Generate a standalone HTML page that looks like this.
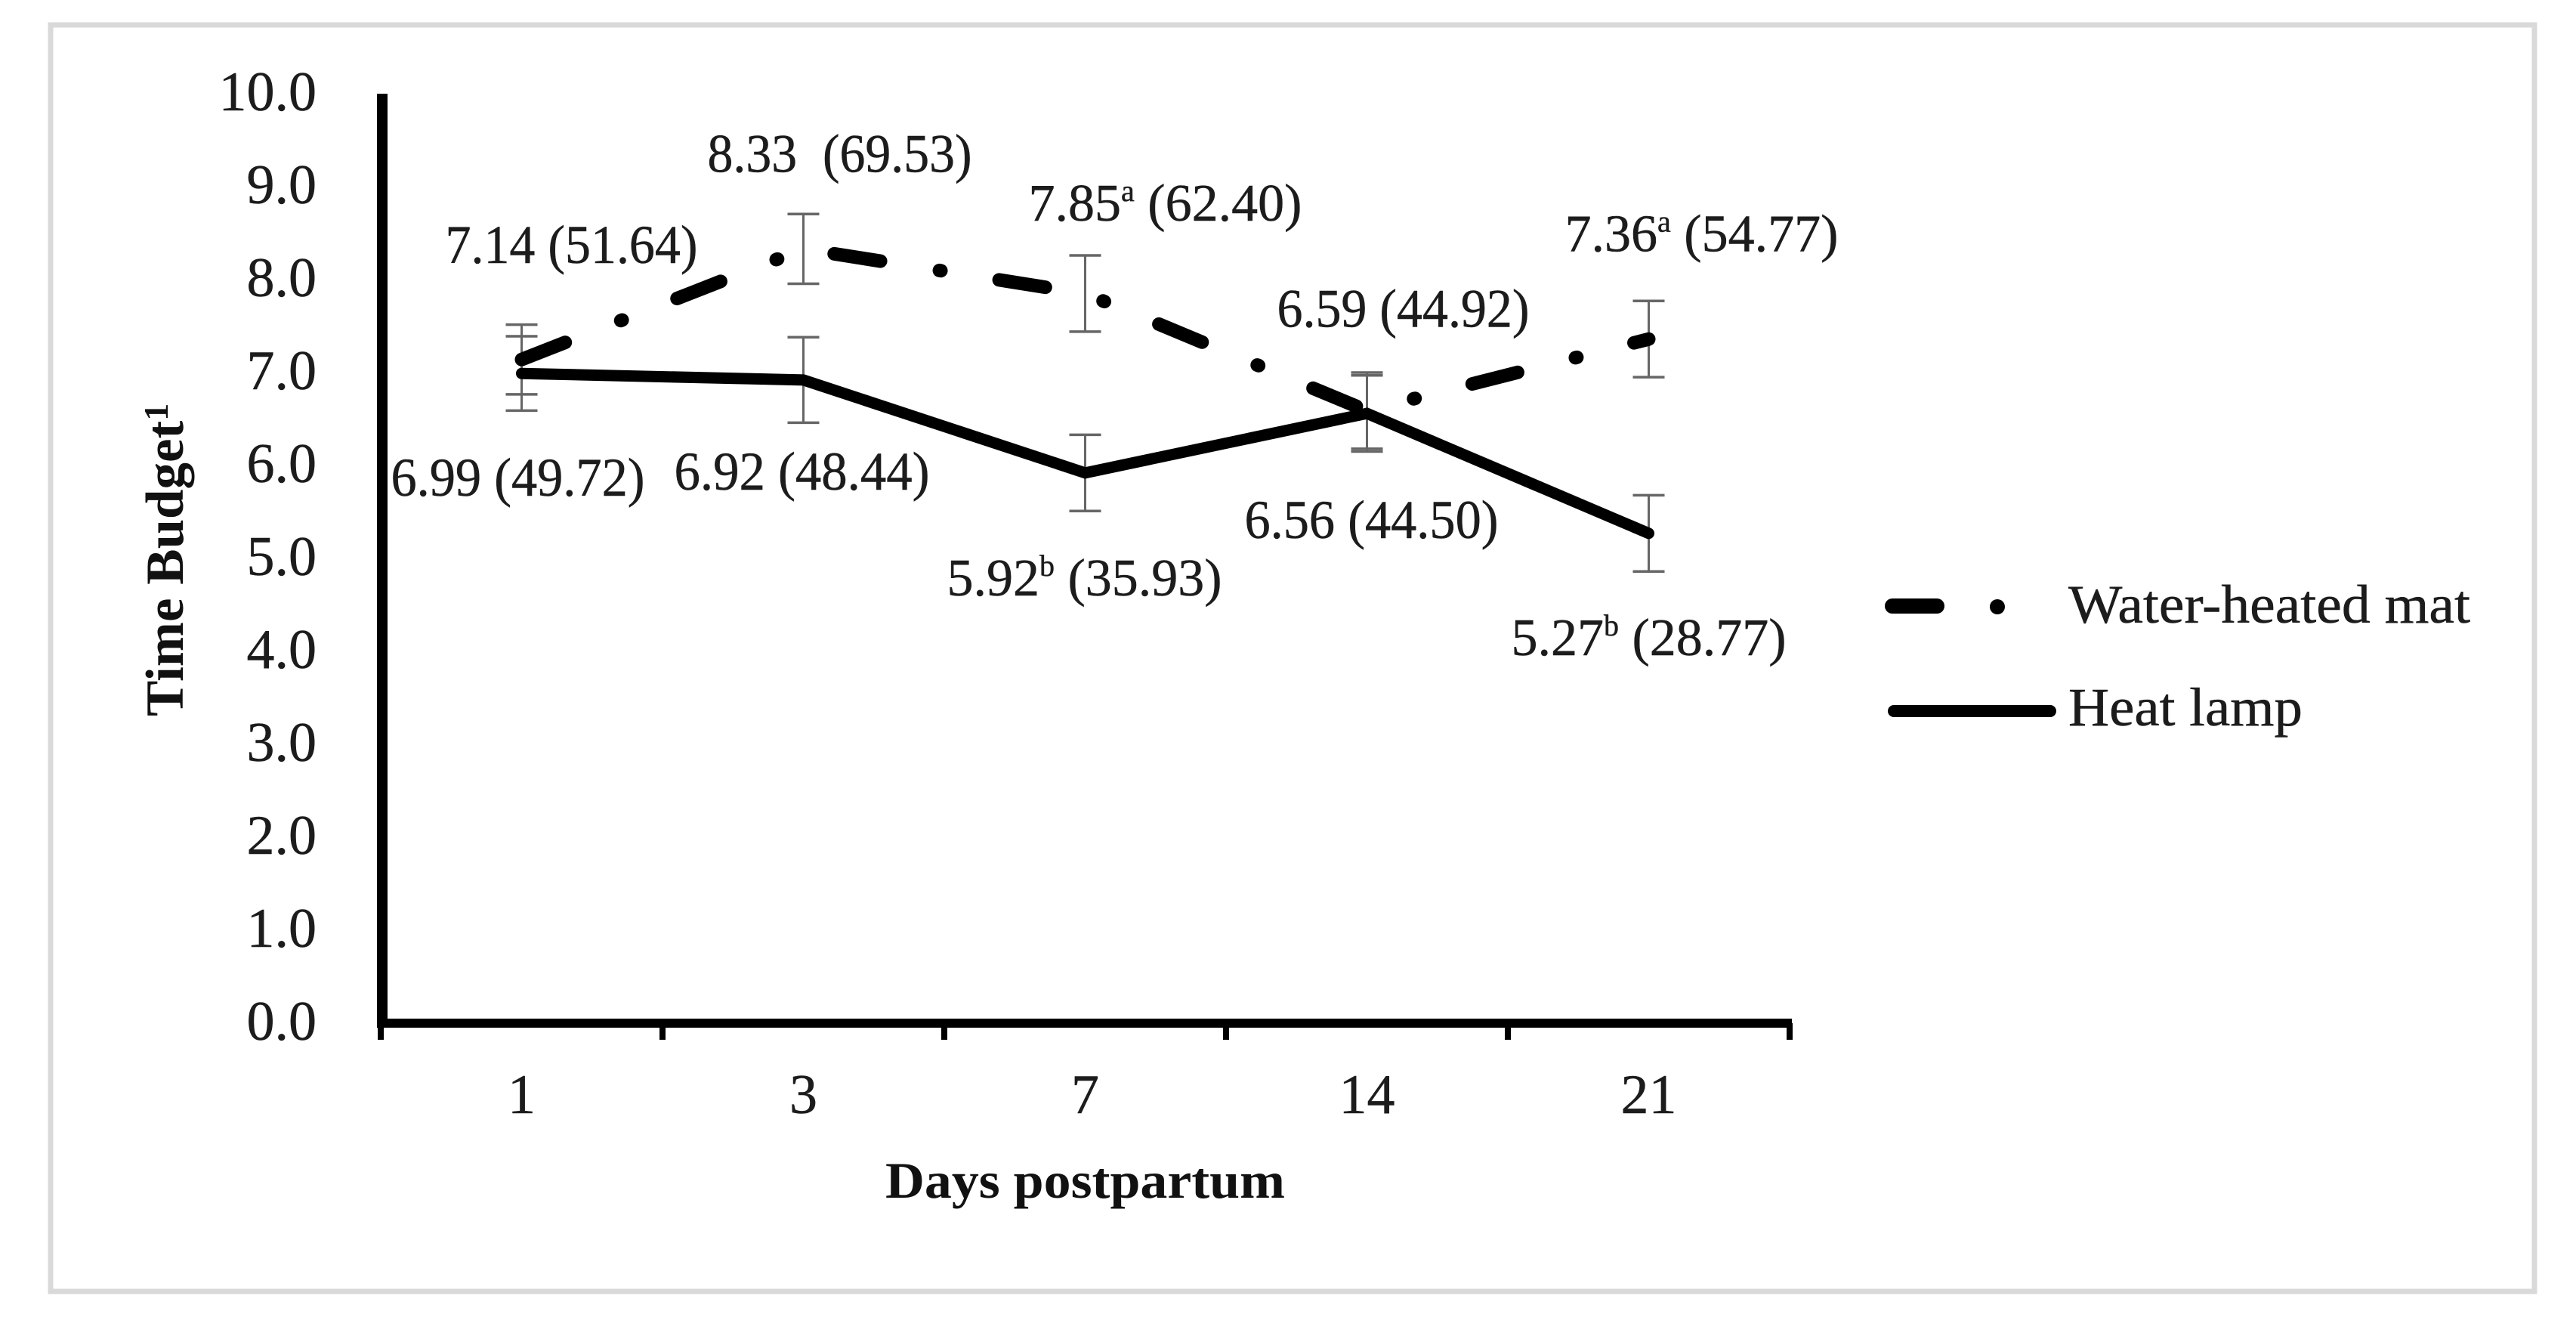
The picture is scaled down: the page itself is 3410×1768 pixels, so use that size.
<!DOCTYPE html>
<html lang="en">
<head>
<meta charset="utf-8">
<title>Time budget by days postpartum</title>
<style>
  html, body { margin: 0; padding: 0; background: #ffffff; }
  svg { display: block; }
  text { font-family: "Liberation Serif", "DejaVu Serif", serif; fill: #1c1c1c; stroke: #1c1c1c; stroke-width: 0.5px; }
  .tick-label { font-size: 74px; }
  .value-label { font-size: 72px; }
  .value-label-sup { font-size: 70px; }
  .axis-title { font-size: 68px; font-weight: bold; fill: #111111; stroke: none; }
  .y-title { font-size: 71px; }
  .legend-label { font-size: 72px; }
</style>
</head>
<body>
<svg id="chart" xmlns="http://www.w3.org/2000/svg" width="3410" height="1768" viewBox="0 0 3410 1768">
  <rect x="0" y="0" width="3410" height="1768" fill="#ffffff"/>
  <rect x="67" y="33" width="3288" height="1676" fill="none" stroke="#d9d9d9" stroke-width="7"/>

  <g id="error-bars"></g>
  <g id="series"></g>
  <g id="axes"></g>

  <text class="axis-title" x="1172" y="1585" textLength="529" lengthAdjust="spacingAndGlyphs">Days postpartum</text>
  <text class="axis-title y-title" transform="translate(242,948) rotate(-90)" x="0" y="0">Time Budget<tspan dy="-20" font-size="46">1</tspan></text>

  <g id="value-labels">
    <text class="value-label" data-series="mat" data-index="0" data-dx="-101" data-dy="-128" textLength="334" lengthAdjust="spacingAndGlyphs">7.14 (51.64)</text>
    <text class="value-label" data-series="mat" data-index="1" data-dx="-127" data-dy="-102" textLength="350" lengthAdjust="spacingAndGlyphs" xml:space="preserve">8.33  (69.53)</text>
    <text class="value-label value-label-sup" data-series="mat" data-index="2" data-dx="-75" data-dy="-96.5">7.85<tspan dy="-26" font-size="40">a</tspan><tspan dy="26"> (62.40)</tspan></text>
    <text class="value-label" data-series="mat" data-index="3" data-dx="-119" data-dy="-111" textLength="334" lengthAdjust="spacingAndGlyphs">6.59 (44.92)</text>
    <text class="value-label value-label-sup" data-series="mat" data-index="4" data-dx="-111" data-dy="-116">7.36<tspan dy="-26" font-size="40">a</tspan><tspan dy="26"> (54.77)</tspan></text>
    <text class="value-label" data-series="lamp" data-index="0" data-dx="-173" data-dy="162" textLength="336" lengthAdjust="spacingAndGlyphs">6.99 (49.72)</text>
    <text class="value-label" data-series="lamp" data-index="1" data-dx="-171" data-dy="145" textLength="338" lengthAdjust="spacingAndGlyphs">6.92 (48.44)</text>
    <text class="value-label value-label-sup" data-series="lamp" data-index="2" data-dx="-183" data-dy="162">5.92<tspan dy="-26" font-size="40">b</tspan><tspan dy="26"> (35.93)</tspan></text>
    <text class="value-label" data-series="lamp" data-index="3" data-dx="-162" data-dy="165" textLength="336" lengthAdjust="spacingAndGlyphs">6.56 (44.50)</text>
    <text class="value-label value-label-sup" data-series="lamp" data-index="4" data-dx="-182" data-dy="161">5.27<tspan dy="-26" font-size="40">b</tspan><tspan dy="26"> (28.77)</tspan></text>
  </g>

  <g>
    <g>
      <line x1="2505" y1="802" x2="2564" y2="802" stroke="#000" stroke-width="20" stroke-linecap="round"/>
      <circle cx="2644" cy="803" r="10" fill="#000"/>
      <text class="legend-label" x="2738" y="824" textLength="532" lengthAdjust="spacingAndGlyphs">Water-heated mat</text>
    </g>
    <g>
      <line x1="2507" y1="941" x2="2714" y2="941" stroke="#000" stroke-width="16" stroke-linecap="round"/>
      <text class="legend-label" x="2738" y="960" textLength="310" lengthAdjust="spacingAndGlyphs">Heat lamp</text>
    </g>
  </g>
</svg>

<script>
const categories = ["1", "3", "7", "14", "21"];
const matValues = [7.14, 8.33, 7.85, 6.59, 7.36];
const lampValues = [6.99, 6.92, 5.92, 6.56, 5.27];
const matErrors = [0.375, 0.375, 0.41, 0.41, 0.41];
const lampErrors = [0.40, 0.46, 0.41, 0.41, 0.41];
const yTickValues = [0, 1, 2, 3, 4, 5, 6, 7, 8, 9, 10];
const yTickLabels = ["0.0", "1.0", "2.0", "3.0", "4.0", "5.0", "6.0", "7.0", "8.0", "9.0", "10.0"];

const NS = "http://www.w3.org/2000/svg";
const plotLeft = 504, plotRight = 2369, plotTop = 124, plotBottom = 1354, yMax = 10;

function xBand(i) { return plotLeft + (plotRight - plotLeft) / categories.length * i; }
function xPos(i) { return xBand(i + 0.5); }
function yPos(v) { return plotBottom - (plotBottom - plotTop) * v / yMax; }

function make(tag, attrs, parent) {
  const el = document.createElementNS(NS, tag);
  for (const k in attrs) el.setAttribute(k, attrs[k]);
  parent.appendChild(el);
  return el;
}

const axes = document.getElementById("axes");
const errGroup = document.getElementById("error-bars");
const seriesGroup = document.getElementById("series");

const yAxisLine = make("line", { x1: 506, y1: plotTop, x2: 506, y2: plotBottom + 6, stroke: "#000", "stroke-width": 14 }, axes);



const xAxisLine = make("line", { x1: 499, y1: plotBottom, x2: plotRight + 3, y2: plotBottom, stroke: "#000", "stroke-width": 12 }, axes);



for (let i = 0; i <= categories.length; i++) {
  const tick = make("line", { x1: xBand(i), y1: plotBottom, x2: xBand(i), y2: plotBottom + 22, stroke: "#000", "stroke-width": 8 }, axes);
  
  
}

categories.forEach(function (c, i) {
  const t = make("text", { class: "tick-label", x: xPos(i), y: 1473, "text-anchor": "middle" }, axes);
  t.textContent = c;
  
  
});

yTickValues.forEach(function (v, i) {
  const t = make("text", { class: "tick-label", x: 419, y: yPos(v) + 22, "text-anchor": "end" }, axes);
  t.textContent = yTickLabels[i];
  
  
});

function drawErrors(values, errors) {
  values.forEach(function (v, i) {
    const x = xPos(i), top = yPos(v + errors[i]), bottom = yPos(v - errors[i]), cap = 21;
    const stem = make("line", { x1: x, y1: top, x2: x, y2: bottom, stroke: "#666", "stroke-width": 3 }, errGroup);
    
    
    const capTop = make("line", { x1: x - cap, y1: top, x2: x + cap, y2: top, stroke: "#666", "stroke-width": 3.5 }, errGroup);
    
    
    const capBottom = make("line", { x1: x - cap, y1: bottom, x2: x + cap, y2: bottom, stroke: "#666", "stroke-width": 3.5 }, errGroup);
    
    
  });
}
drawErrors(matValues, matErrors);
drawErrors(lampValues, lampErrors);

function pathFor(values) {
  return values.map(function (v, i) { return (i ? "L" : "M") + xPos(i) + " " + yPos(v); }).join(" ");
}

const lampLine = make("path", { d: pathFor(lampValues), fill: "none", stroke: "#000", "stroke-width": 15, "stroke-linejoin": "miter", "stroke-linecap": "round" }, seriesGroup);



const matLine = make("path", { d: pathFor(matValues), fill: "none", stroke: "#000", "stroke-width": 18, "stroke-linecap": "round", "stroke-linejoin": "round", "stroke-dasharray": "62 79 2 78" }, seriesGroup);



document.querySelectorAll("#value-labels text").forEach(function (t) {
  const vals = t.getAttribute("data-series") === "mat" ? matValues : lampValues;
  const i = +t.getAttribute("data-index");
  t.setAttribute("x", xPos(i) + (+t.getAttribute("data-dx")));
  t.setAttribute("y", yPos(vals[i]) + (+t.getAttribute("data-dy")));
});
</script>
</body>
</html>
